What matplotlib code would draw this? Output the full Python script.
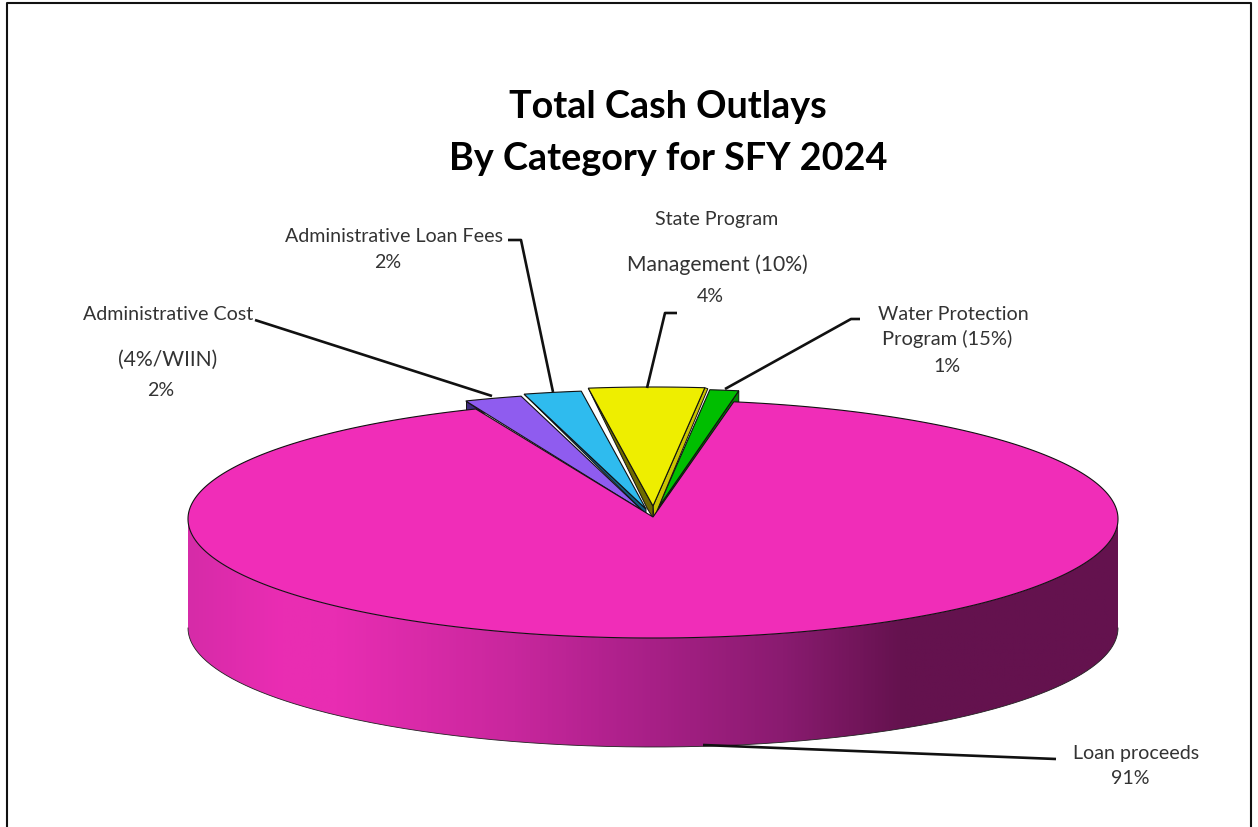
import numpy as np
import matplotlib
matplotlib.use("Agg")
import matplotlib.pyplot as plt
from matplotlib.patches import Polygon
from matplotlib.colors import LinearSegmentedColormap

# ---- data ----
categories = ["Loan proceeds", "Water Protection Program (15%)", "State Program Management (10%)",
              "Administrative Loan Fees", "Administrative Cost (4%/WIIN)"]
values = [91, 1, 4, 2, 2]
title_lines = ["Total Cash Outlays", "By Category for SFY 2024"]
colors = ["#F02DB8", "#00BE00", "#EEEE00", "#2FBBEE", "#8F5CEF"]
dark_left = [None, None, "#6E6A00", "#0F5F80", "#3E2A80"]
dark_right = [None, "#008A00", "#C9C400", None, None]
offset_x = [0, 5, 0, -7, -10]
offset_y = [0, -11, -13, -10, -8]
left_wall_width = [0, 0, 6, 3, 0]

# ---- layout (pixels) ----
W, H = 1258, 827
CX, CY, RX, RY, DEPTH = 653, 519, 465, 119, 109
START = 112.4

fig = plt.figure(figsize=(W / 100, H / 100), dpi=100)
ax = fig.add_axes([0, 0, 1, 1])
ax.axis("off")


def pt(t, cx=CX, cy=CY):
    r = np.radians(t)
    return cx + RX * np.cos(r), cy - RY * np.sin(r)


fracs = np.array(values) / sum(values) * 360
edges = START + np.concatenate([[0], np.cumsum(fracs)])

# frame
ax.plot([7, 7, 1251, 1251], [H, 3, 3, H], color="#111111", lw=1.5, zorder=1)

# side wall of main slice with horizontal gradient
ts = np.linspace(180, 360, 300)
xs, ys = pt(ts)
verts = list(zip(xs, ys)) + list(zip(xs[::-1], ys[::-1] + DEPTH))
wall = Polygon(verts, closed=True, fc="none", ec="none")
ax.add_patch(wall)
cmap = LinearSegmentedColormap.from_list("wall", [
    (0.00, "#D62BA8"), (0.10, "#EA2DB3"), (0.16, "#E82DB2"), (0.35, "#C8279D"),
    (0.46, "#B0218D"), (0.64, "#8A1B70"), (0.77, "#64124E"), (1.00, "#64124E")])
im = ax.imshow(np.linspace(0, 1, 512)[None, :], extent=[CX - RX, CX + RX, CY + DEPTH + RY, CY],
               cmap=cmap, aspect="auto", zorder=2)
im.set_clip_path(wall)
ax.set_xlim(0, W)
ax.set_ylim(H, 0)
ax.plot(xs, ys + DEPTH, color="#222222", lw=0.6, zorder=3)

# exploded slices, outermost first
draw_order = [4, 3, 1, 2]
for z, i in enumerate(draw_order):
    a0, a1 = edges[i], edges[i + 1]
    ox, oy = CX + offset_x[i], CY + offset_y[i]
    arc_t = np.linspace(a0, a1, 30)
    ax_pts, ay_pts = pt(arc_t, ox, oy)
    base = 4 + z
    right = (ax_pts[0], ay_pts[0])
    left = (ax_pts[-1], ay_pts[-1])
    if dark_right[i]:
        if i == 1:
            poly = [right, (right[0], right[1] + 12), (ox, oy + 12), (ox, oy)]
        else:
            poly = [right, (right[0] + 3, right[1] + 1), (ox + 1, oy + 12), (ox, oy)]
        ax.add_patch(Polygon(poly, closed=True, fc=dark_right[i], ec="#111111", lw=0.7, zorder=base))
    if dark_left[i]:
        if i == 4:
            poly = [left, (left[0], left[1] + 12), (left[0] + 18, left[1] + 12)]
        else:
            poly = [left, (ox - left_wall_width[i], oy + 2), (ox, oy + 12), (ox, oy)]
        ax.add_patch(Polygon(poly, closed=True, fc=dark_left[i], ec="#111111", lw=0.7, zorder=base))
    top = [(ox, oy)] + list(zip(ax_pts, ay_pts))
    ax.add_patch(Polygon(top, closed=True, fc=colors[i], ec="#111111", lw=0.8, zorder=base + 0.5))

# main slice top surface (covers the lower parts of the exploded slices)
t = np.linspace(edges[0], edges[1], 600)
x0, y0 = pt(t)
ax.add_patch(Polygon([(CX, CY - 2)] + list(zip(x0, y0)), closed=True, fc=colors[0], ec="#111111", lw=0.8, zorder=10))

# leader lines
leaders = [
    ([255, 492], [320, 396]),
    ([508, 521, 553], [240, 240, 392]),
    ([677, 665, 647], [313, 313, 388]),
    ([860, 851, 725], [319, 319, 389]),
    ([703, 1056], [745, 759]),
]
for lx, ly in leaders:
    ax.plot(lx, ly, color="#111111", lw=1.9, zorder=11, solid_capstyle="butt")

# text
FONT = "Lato"
for s, y in zip(title_lines, [107, 159]):
    ax.text(668, y, s, ha="center", va="center", family=FONT, fontweight="bold", fontsize=27.2, color="black", zorder=12)

labels = [
    ("Administrative Cost", 168, 314, 14.1), ("(4%/WIIN)", 168, 360, 15.2), ("2%", 161, 391, 14.1),
    ("Administrative Loan Fees", 394, 237, 14.1), ("2%", 388, 262, 14.1),
    ("State Program", 717, 219, 14.1), ("Management (10%)", 717, 265, 15.2), ("4%", 710, 297, 14.1),
    ("Water Protection", 953, 314, 14.1), ("Program (15%)", 947, 339, 14.5), ("1%", 947, 366, 14.1),
    ("Loan proceeds", 1136, 753, 14.1), ("91%", 1130, 779, 14.1),
]
for s, x, y, size in labels:
    ax.text(x, y, s, ha="center", va="center", family=FONT, fontsize=size, color="#333333", zorder=12)

fig.savefig("out.png", dpi=100, facecolor="white")
